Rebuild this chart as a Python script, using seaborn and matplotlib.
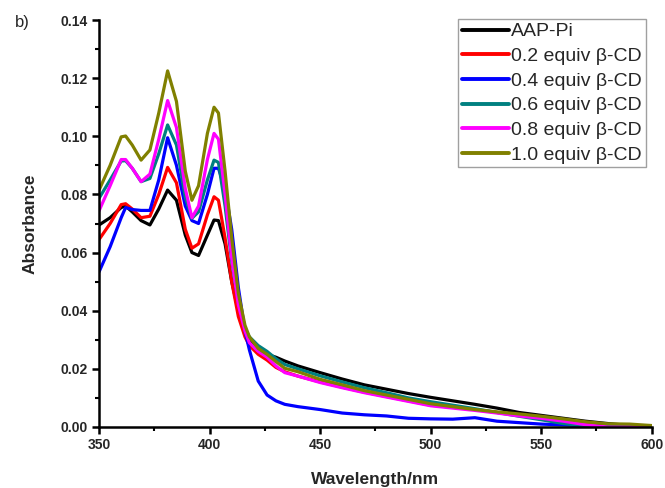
import numpy as np
import pandas as pd
import seaborn as sns
import matplotlib
matplotlib.use("Agg")
import matplotlib.pyplot as plt
from matplotlib.ticker import MultipleLocator, FormatStrFormatter

wavelength = [350, 355, 360, 362, 365, 369, 373, 377, 381, 385, 389, 392, 395, 399,
              402, 404, 407, 410, 413, 416, 418, 422, 426, 430, 434, 440, 450, 460,
              470, 480, 490, 500, 510, 520, 530, 540, 550, 560, 570, 580, 590, 600]

aap_pi = [0.0695, 0.072, 0.0755, 0.076, 0.074, 0.071, 0.0695, 0.075, 0.0815, 0.078, 0.066,
          0.060, 0.059, 0.066, 0.0712, 0.071, 0.063, 0.050, 0.040, 0.033, 0.030, 0.027,
          0.025, 0.024, 0.0227, 0.021, 0.0187, 0.0165, 0.0145, 0.013, 0.0115, 0.0102,
          0.009, 0.0078, 0.0065, 0.005, 0.004, 0.003, 0.002, 0.0012, 0.0005, 0.0]
cd_02 = [0.0645, 0.070, 0.0765, 0.0768, 0.075, 0.072, 0.0725, 0.080, 0.0893, 0.084, 0.068,
         0.0615, 0.063, 0.073, 0.0792, 0.078, 0.065, 0.050, 0.038, 0.031, 0.028, 0.025,
         0.023, 0.0205, 0.019, 0.0175, 0.0155, 0.0137, 0.012, 0.0105, 0.009, 0.0075,
         0.0068, 0.006, 0.005, 0.0042, 0.0035, 0.0025, 0.0015, 0.0005, 0.0, 0.0]
cd_04 = [0.0534, 0.062, 0.072, 0.0755, 0.0748, 0.0745, 0.0745, 0.085, 0.0995, 0.090, 0.076,
         0.071, 0.070, 0.080, 0.089, 0.089, 0.082, 0.068, 0.048, 0.033, 0.0265, 0.0158,
         0.011, 0.009, 0.0078, 0.007, 0.006, 0.0048, 0.0042, 0.0038, 0.003, 0.0028,
         0.0027, 0.0032, 0.002, 0.0015, 0.001, 0.0007, 0.0004, 0.0002, 0.0001, 0.0]
cd_06 = [0.0787, 0.085, 0.0915, 0.0916, 0.089, 0.0844, 0.0855, 0.094, 0.1039, 0.097, 0.079,
         0.0718, 0.074, 0.085, 0.0918, 0.091, 0.076, 0.057, 0.043, 0.034, 0.031, 0.028,
         0.026, 0.0235, 0.0215, 0.020, 0.0176, 0.0155, 0.0135, 0.0118, 0.010, 0.0087,
         0.0075, 0.0063, 0.005, 0.0037, 0.0025, 0.0012, 0.0004, 0.0, 0.0, 0.0]
cd_08 = [0.0744, 0.083, 0.092, 0.092, 0.089, 0.0844, 0.087, 0.099, 0.1123, 0.103, 0.082,
         0.072, 0.076, 0.092, 0.101, 0.099, 0.080, 0.058, 0.042, 0.033, 0.029, 0.026,
         0.024, 0.021, 0.0187, 0.0175, 0.0153, 0.0135, 0.0118, 0.0103, 0.0088, 0.0073,
         0.0065, 0.0057, 0.0048, 0.0038, 0.003, 0.002, 0.0008, 0.0, 0.0, 0.0]
cd_10 = [0.0815, 0.090, 0.0998, 0.1001, 0.097, 0.0918, 0.0953, 0.108, 0.1225, 0.112, 0.088,
         0.078, 0.083, 0.101, 0.110, 0.108, 0.088, 0.065, 0.046, 0.035, 0.031, 0.027,
         0.025, 0.0225, 0.0202, 0.019, 0.0164, 0.0145, 0.0125, 0.011, 0.0095, 0.008,
         0.007, 0.006, 0.0052, 0.0045, 0.0037, 0.0028, 0.0018, 0.0011, 0.001, 0.0005]

labels = ["AAP-Pi", "0.2 equiv \u03b2-CD", "0.4 equiv \u03b2-CD", "0.6 equiv \u03b2-CD",
          "0.8 equiv \u03b2-CD", "1.0 equiv \u03b2-CD"]
colors = ["#000000", "#FF0000", "#0000FF", "#008080", "#FF00FF", "#808000"]

series = [aap_pi, cd_02, cd_04, cd_06, cd_08, cd_10]
frames = [pd.DataFrame({"Wavelength": wavelength, "Absorbance": s, "Sample": lab})
          for s, lab in zip(series, labels)]
df = pd.concat(frames, ignore_index=True)

sns.set_style("ticks")
plt.rcParams["font.family"] = ["Liberation Sans", "DejaVu Sans"]

fig = plt.figure(figsize=(6.65, 4.88), dpi=100)
ax = fig.add_axes([0.149, 0.125, 0.831, 0.834])

sns.lineplot(data=df, x="Wavelength", y="Absorbance", hue="Sample",
             palette=dict(zip(labels, colors)), hue_order=labels,
             estimator=None, sort=False, linewidth=2.3, ax=ax)
for ln in ax.get_lines():
    ln.set_solid_joinstyle("round")

ax.set_xlim(350, 600)
ax.set_ylim(0, 0.14)
ax.xaxis.set_major_locator(MultipleLocator(50))
ax.xaxis.set_minor_locator(MultipleLocator(25))
ax.yaxis.set_major_locator(MultipleLocator(0.02))
ax.yaxis.set_minor_locator(MultipleLocator(0.01))
ax.yaxis.set_major_formatter(FormatStrFormatter("%.2f"))

for side in ["top", "right"]:
    ax.spines[side].set_visible(False)
for side in ["left", "bottom"]:
    ax.spines[side].set_linewidth(1.8)
    ax.spines[side].set_color("black")

ax.tick_params(which="major", direction="out", length=5, width=1.8, color="black",
               labelsize=10, pad=3)
ax.tick_params(which="minor", direction="out", length=3, width=1.5, color="black")
for t in ax.get_xticklabels() + ax.get_yticklabels():
    t.set_fontweight("bold")

ax.set_xlabel("Wavelength/nm", fontsize=12.5, fontweight="bold", labelpad=14)
ax.set_ylabel("Absorbance", fontsize=12.5, fontweight="bold", labelpad=17)

leg = ax.legend(loc="upper right", bbox_to_anchor=(646 / 665, 1 - 19 / 488),
                bbox_transform=fig.transFigure, fontsize=14,
                frameon=True, fancybox=False, edgecolor="#888888",
                handlelength=2.4, handletextpad=0.12, borderpad=0.2,
                labelspacing=0.36, borderaxespad=0.0)
leg.get_frame().set_linewidth(1.0)
for line in leg.get_lines():
    line.set_linewidth(2.8)

fig.text(0.022, 0.945, "b)", fontsize=12)

fig.savefig("out.png", dpi=100)
